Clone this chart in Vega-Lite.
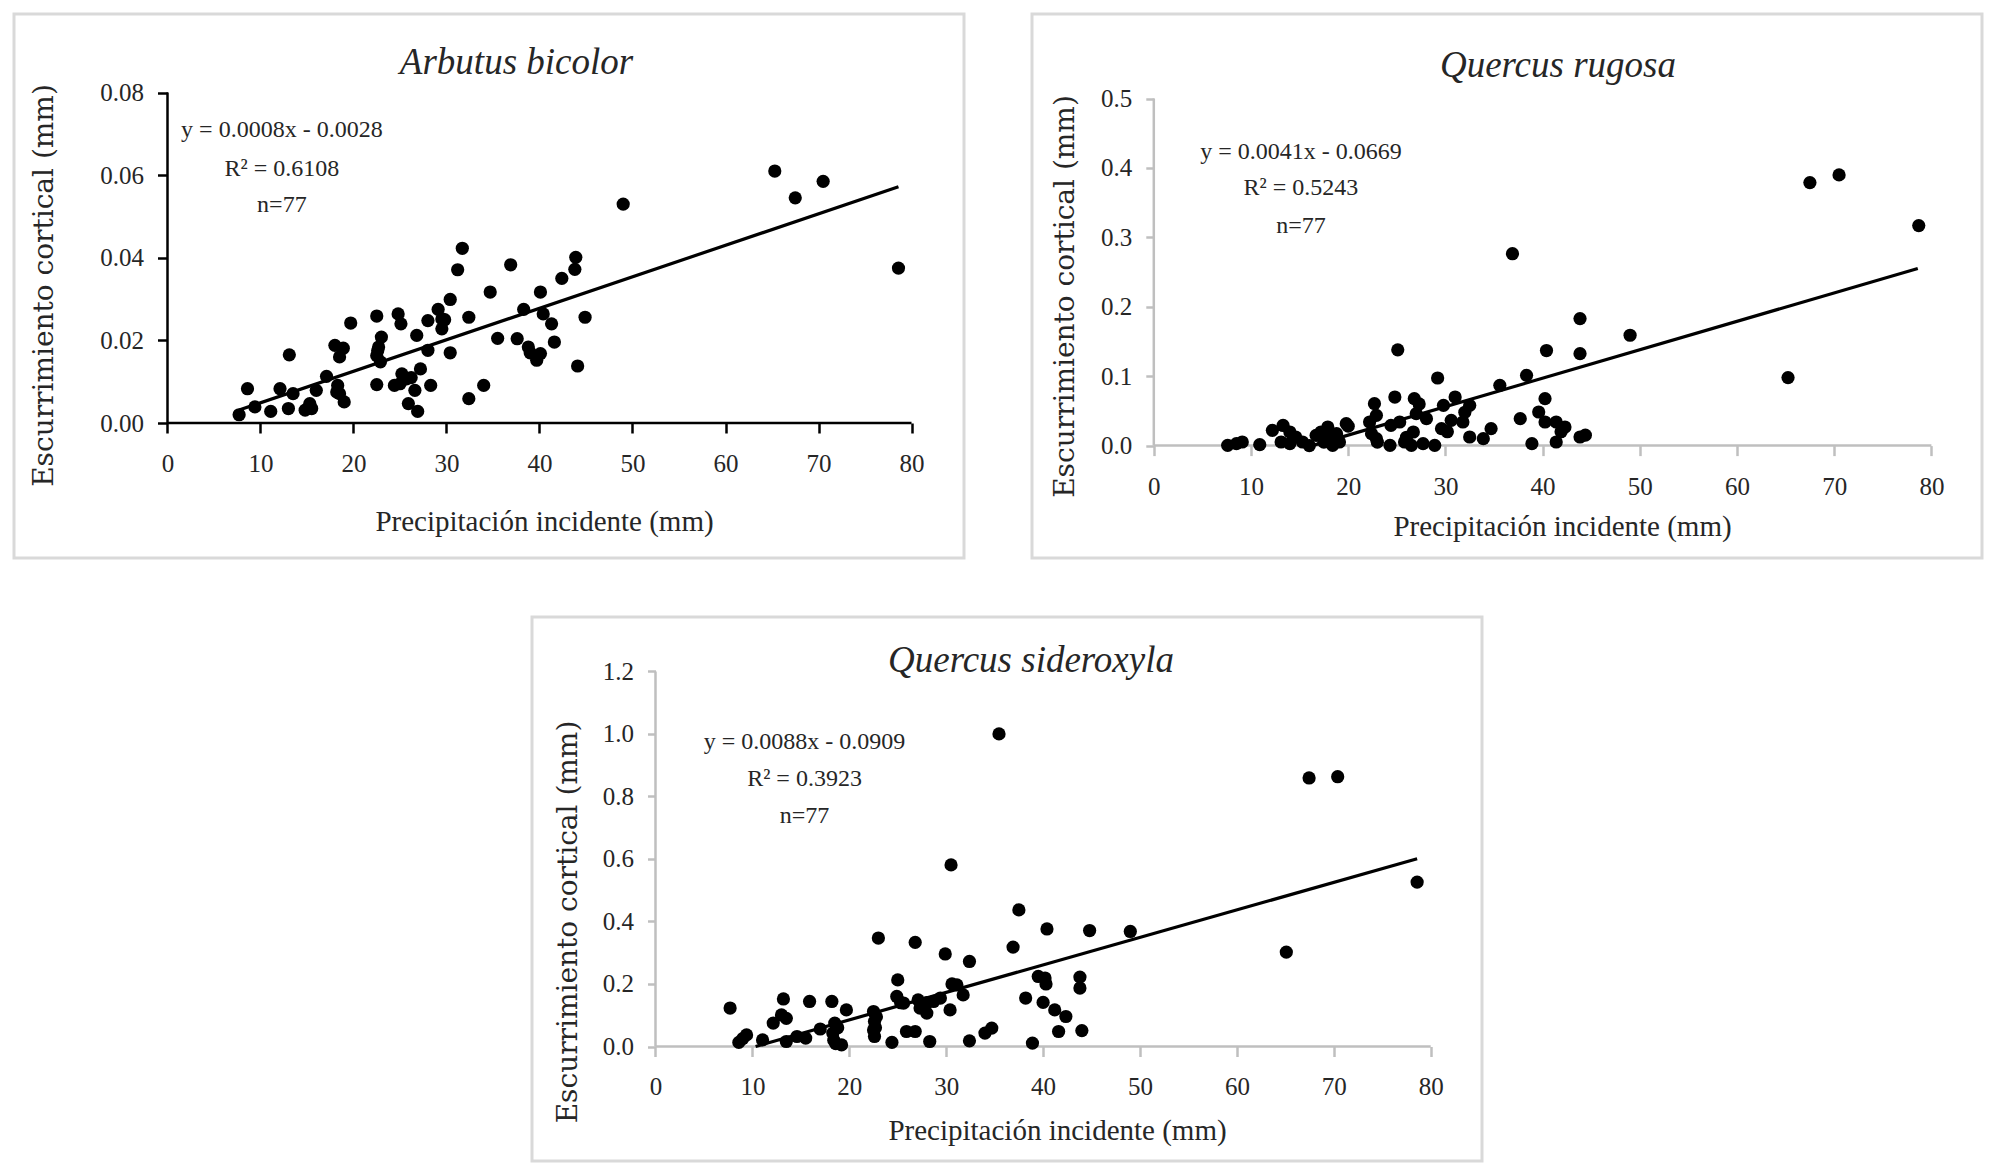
{
  "$schema": "https://vega.github.io/schema/vega-lite/v6.json",
  "description": "Escurrimiento cortical vs precipitación incidente para tres especies",
  "padding": {"left": 12, "top": 12, "right": 0, "bottom": 0},
  "background": "white",
  "config": {
    "view": {"stroke": "#d9d9d9", "strokeWidth": 3},
    "font": "Liberation Serif",
    "axis": {"labelFont": "Liberation Serif", "titleFont": "Liberation Serif", "titleFontWeight": "normal", "grid": false, "domain": false}
  },
  "datasets": {
    "arbutus": [
      {"x":7.7,"y":0.002},{"x":8.6,"y":0.0083},{"x":9.4,"y":0.0039},{"x":11.1,"y":0.0028},{"x":12.1,"y":0.0083},
      {"x":13.1,"y":0.0165},{"x":13.0,"y":0.0035},{"x":13.5,"y":0.0071},{"x":14.8,"y":0.0031},{"x":15.3,"y":0.0047},
      {"x":16.0,"y":0.0079},{"x":17.1,"y":0.0113},{"x":18.0,"y":0.0188},{"x":18.9,"y":0.0181},{"x":18.5,"y":0.016},
      {"x":18.3,"y":0.0091},{"x":18.5,"y":0.0071},{"x":19.0,"y":0.0051},{"x":19.7,"y":0.0242},{"x":22.5,"y":0.0259},
      {"x":23.0,"y":0.0208},{"x":22.7,"y":0.0184},{"x":22.5,"y":0.0163},{"x":22.9,"y":0.0148},{"x":22.5,"y":0.0093},
      {"x":24.8,"y":0.0264},{"x":25.1,"y":0.024},{"x":24.4,"y":0.0091},{"x":25.2,"y":0.0119},{"x":25.7,"y":0.0107},
      {"x":26.6,"y":0.0079},{"x":25.9,"y":0.0047},{"x":26.9,"y":0.0028},{"x":26.8,"y":0.0212},{"x":27.2,"y":0.0131},
      {"x":28.0,"y":0.0176},{"x":28.0,"y":0.0248},{"x":28.3,"y":0.0091},{"x":29.1,"y":0.0275},{"x":29.5,"y":0.0252},
      {"x":29.5,"y":0.0228},{"x":30.4,"y":0.0299},{"x":30.4,"y":0.017},{"x":31.2,"y":0.0371},{"x":31.7,"y":0.0423},
      {"x":32.4,"y":0.0256},{"x":32.4,"y":0.0059},{"x":34.0,"y":0.0091},{"x":34.7,"y":0.0317},{"x":35.5,"y":0.0205},
      {"x":36.9,"y":0.0383},{"x":37.6,"y":0.0204},{"x":38.3,"y":0.0275},{"x":38.8,"y":0.0184},{"x":39.7,"y":0.0152},
      {"x":40.1,"y":0.0168},{"x":40.1,"y":0.0317},{"x":40.4,"y":0.0264},{"x":41.3,"y":0.024},{"x":41.6,"y":0.0196},
      {"x":42.4,"y":0.035},{"x":43.8,"y":0.0372},{"x":43.9,"y":0.0401},{"x":44.1,"y":0.0138},{"x":44.9,"y":0.0256},
      {"x":49.0,"y":0.053},{"x":65.3,"y":0.061},{"x":67.5,"y":0.0545},{"x":70.5,"y":0.0585},{"x":78.6,"y":0.0375},
      {"x":18.2,"y":0.0075},{"x":22.6,"y":0.0175},{"x":26.2,"y":0.011},{"x":39.0,"y":0.017},{"x":25.0,"y":0.0095},
      {"x":15.5,"y":0.0035},{"x":29.8,"y":0.025}
    ],
    "rugosa": [
      {"x":7.6,"y":0.0004},{"x":8.5,"y":0.0028},{"x":9.1,"y":0.0052},{"x":10.9,"y":0.0013},{"x":12.2,"y":0.022},
      {"x":13.3,"y":0.029},{"x":13.1,"y":0.0052},{"x":14.0,"y":0.0196},{"x":14.6,"y":0.0124},{"x":15.3,"y":0.0052},
      {"x":16.0,"y":0.0},{"x":16.7,"y":0.0148},{"x":17.2,"y":0.0196},{"x":17.9,"y":0.0268},{"x":18.1,"y":0.0124},
      {"x":18.4,"y":0.0004},{"x":18.8,"y":0.0172},{"x":19.8,"y":0.0316},{"x":19.1,"y":0.0052},{"x":22.7,"y":0.0604},
      {"x":22.9,"y":0.0436},{"x":22.2,"y":0.034},{"x":22.4,"y":0.0172},{"x":22.9,"y":0.010},{"x":24.8,"y":0.070},
      {"x":25.1,"y":0.138},{"x":24.4,"y":0.0292},{"x":24.3,"y":0.0004},{"x":25.3,"y":0.034},{"x":25.8,"y":0.0052},
      {"x":26.8,"y":0.0676},{"x":27.0,"y":0.046},{"x":26.7,"y":0.0196},{"x":26.5,"y":0.0004},{"x":28.05,"y":0.0388},
      {"x":27.7,"y":0.0028},{"x":28.9,"y":0.0004},{"x":29.2,"y":0.0974},{"x":29.8,"y":0.058},{"x":29.6,"y":0.0244},
      {"x":30.6,"y":0.0364},{"x":31.0,"y":0.070},{"x":31.8,"y":0.034},{"x":32.0,"y":0.048},{"x":32.5,"y":0.058},
      {"x":32.5,"y":0.0124},{"x":33.9,"y":0.010},{"x":34.7,"y":0.0244},{"x":35.6,"y":0.0868},{"x":38.35,"y":0.1012},
      {"x":37.7,"y":0.0388},{"x":38.9,"y":0.0028},{"x":40.25,"y":0.0676},{"x":39.6,"y":0.0484},{"x":40.25,"y":0.034},
      {"x":40.4,"y":0.137},{"x":41.4,"y":0.034},{"x":41.4,"y":0.0052},{"x":42.3,"y":0.0268},{"x":43.85,"y":0.1325},
      {"x":43.85,"y":0.183},{"x":43.85,"y":0.0124},{"x":44.4,"y":0.015},{"x":36.9,"y":0.2765},{"x":49.0,"y":0.159},
      {"x":65.25,"y":0.098},{"x":67.5,"y":0.379},{"x":70.5,"y":0.390},{"x":78.7,"y":0.317},{"x":20.0,"y":0.028},
      {"x":23.0,"y":0.005},{"x":26.0,"y":0.012},{"x":27.3,"y":0.06},{"x":30.2,"y":0.02},{"x":14.0,"y":0.003},
      {"x":17.5,"y":0.005},{"x":41.9,"y":0.02}
    ],
    "sideroxyla": [
      {"x":7.7,"y":0.123},{"x":8.6,"y":0.013},{"x":9.4,"y":0.037},{"x":11.05,"y":0.021},{"x":12.15,"y":0.075},
      {"x":13.0,"y":0.101},{"x":13.2,"y":0.152},{"x":13.5,"y":0.016},{"x":14.6,"y":0.032},{"x":15.5,"y":0.027},
      {"x":15.9,"y":0.144},{"x":17.0,"y":0.056},{"x":18.2,"y":0.144},{"x":18.5,"y":0.075},{"x":18.3,"y":0.043},
      {"x":18.6,"y":0.009},{"x":19.2,"y":0.005},{"x":19.7,"y":0.117},{"x":22.5,"y":0.112},{"x":22.6,"y":0.080},
      {"x":22.5,"y":0.053},{"x":22.6,"y":0.032},{"x":23.0,"y":0.347},{"x":24.4,"y":0.013},{"x":25.0,"y":0.213},
      {"x":24.9,"y":0.16},{"x":25.6,"y":0.139},{"x":25.9,"y":0.048},{"x":26.8,"y":0.048},{"x":26.8,"y":0.333},
      {"x":27.1,"y":0.149},{"x":27.3,"y":0.123},{"x":28.0,"y":0.107},{"x":28.3,"y":0.016},{"x":28.7,"y":0.144},
      {"x":29.4,"y":0.155},{"x":29.9,"y":0.296},{"x":30.4,"y":0.117},{"x":31.1,"y":0.197},{"x":31.75,"y":0.165},
      {"x":30.5,"y":0.581},{"x":32.4,"y":0.272},{"x":32.4,"y":0.018},{"x":34.0,"y":0.043},{"x":34.7,"y":0.059},
      {"x":36.9,"y":0.318},{"x":37.5,"y":0.437},{"x":38.2,"y":0.155},{"x":38.9,"y":0.011},{"x":39.5,"y":0.224},
      {"x":40.2,"y":0.219},{"x":40.4,"y":0.376},{"x":40.0,"y":0.141},{"x":41.2,"y":0.117},{"x":42.35,"y":0.096},
      {"x":41.6,"y":0.048},{"x":43.8,"y":0.222},{"x":43.8,"y":0.187},{"x":44.0,"y":0.051},{"x":44.8,"y":0.371},
      {"x":35.45,"y":1.0},{"x":49.0,"y":0.368},{"x":65.1,"y":0.302},{"x":67.45,"y":0.859},{"x":70.4,"y":0.863},
      {"x":78.6,"y":0.526},{"x":18.8,"y":0.06},{"x":22.8,"y":0.095},{"x":25.3,"y":0.14},{"x":27.5,"y":0.13},
      {"x":28.0,"y":0.14},{"x":30.6,"y":0.20},{"x":13.5,"y":0.09},{"x":9.0,"y":0.025},{"x":40.3,"y":0.20},
      {"x":18.4,"y":0.02},{"x":22.7,"y":0.06}
    ]
  },
  "spacing": 55,
  "vconcat": [
    {
      "spacing": 64,
      "hconcat": [
        {
          "width": 950,
          "height": 544,
          "layer": [
            {
              "data": {"values": [{"x":0,"y":0,"x2":80,"y2":0},{"x":0,"y":0,"x2":0,"y2":0.08}]},
              "mark": {"type": "rule", "color": "#000000", "strokeWidth": 2.5},
              "encoding": {
                "x": {"field": "x", "type": "quantitative", "scale": {"domain": [-16.505, 85.645], "nice": false, "zero": false},
                  "axis": {"values": [0,10,20,30,40,50,60,70,80], "offset": -135, "tickSize": 10, "tickWidth": 2.5, "tickColor": "#000000",
                    "labelFontSize": 25, "labelColor": "#262626", "labelPadding": 30, "labelBaseline": "middle", "labelFlush": false, "labelOverlap": false,
                    "title": "Precipitación incidente (mm)", "titleFontSize": 29, "titleColor": "#262626", "titleX": 530, "titleY": 98, "titleBaseline": "middle", "titleAlign": "center"}},
                "x2": {"field": "x2"},
                "y": {"field": "y", "type": "quantitative", "scale": {"domain": [-0.03268, 0.09901], "nice": false, "zero": false},
                  "axis": {"values": [0,0.02,0.04,0.06,0.08], "format": ".2f", "offset": -153.5, "tickSize": 10, "tickWidth": 2.5, "tickColor": "#000000",
                    "labelFontSize": 25, "labelColor": "#262626", "labelPadding": 14, "labelFlush": false, "labelOverlap": false,
                    "title": "Escurrimiento cortical (mm)", "titleFont": "DejaVu Serif", "titleFontSize": 28, "titleColor": "#262626", "titleX": -123.5, "titleY": 271, "titleAngle": -90, "titleBaseline": "middle", "titleAlign": "center"}},
                "y2": {"field": "y2"}
              }
            },
            {
              "data": {"name": "arbutus"},
              "mark": {"type": "circle", "size": 175, "color": "#000000", "opacity": 1},
              "encoding": {
                "x": {"field": "x", "type": "quantitative"},
                "y": {"field": "y", "type": "quantitative"}
              }
            },
            {
              "data": {"values": [{"x":7.7,"y":0.00314,"x2":78.6,"y2":0.0572}]},
              "mark": {"type": "rule", "color": "#000000", "strokeWidth": 3.2},
              "encoding": {
                "x": {"field": "x", "type": "quantitative"},
                "x2": {"field": "x2"},
                "y": {"field": "y", "type": "quantitative"},
                "y2": {"field": "y2"}
              }
            },
            {
              "data": {"values": [
                {"x":12.3,"y":0.0709,"label":"y = 0.0008x - 0.0028"},
                {"x":12.3,"y":0.0615,"label":"R² = 0.6108"},
                {"x":12.3,"y":0.0528,"label":"n=77"}
              ]},
              "mark": {"type": "text", "fontSize": 24, "align": "center", "baseline": "middle", "color": "#262626"},
              "encoding": {
                "x": {"field": "x", "type": "quantitative"},
                "y": {"field": "y", "type": "quantitative"},
                "text": {"field": "label"}
              }
            },
            {
              "data": {"values": [{"x":37.53,"y":0.08715,"label":"Arbutus bicolor"}]},
              "mark": {"type": "text", "fontSize": 37, "fontStyle": "italic", "align": "center", "baseline": "middle", "color": "#262626"},
              "encoding": {
                "x": {"field": "x", "type": "quantitative"},
                "y": {"field": "y", "type": "quantitative"},
                "text": {"field": "label"}
              }
            }
          ]
        },
        {
          "width": 950,
          "height": 544,
          "layer": [
            {
              "data": {"values": [{"x":0,"y":0,"x2":80,"y2":0},{"x":0,"y":0,"x2":0,"y2":0.5}]},
              "mark": {"type": "rule", "color": "#bfbfbf", "strokeWidth": 2.5},
              "encoding": {
                "x": {"field": "x", "type": "quantitative", "scale": {"domain": [-12.531, 85.206], "nice": false, "zero": false},
                  "axis": {"values": [0,10,20,30,40,50,60,70,80], "offset": -112.4, "tickSize": 10, "tickWidth": 2.5, "tickColor": "#bfbfbf",
                    "labelFontSize": 25, "labelColor": "#262626", "labelPadding": 31, "labelBaseline": "middle", "labelFlush": false, "labelOverlap": false,
                    "title": "Precipitación incidente (mm)", "titleFontSize": 29, "titleColor": "#262626", "titleX": 530, "titleY": 80.4, "titleBaseline": "middle", "titleAlign": "center"}},
                "x2": {"field": "x2"},
                "y": {"field": "y", "type": "quantitative", "scale": {"domain": [-0.16196, 0.6219], "nice": false, "zero": false},
                  "axis": {"values": [0,0.1,0.2,0.3,0.4,0.5], "format": ".1f", "offset": -121.8, "tickSize": 8, "tickWidth": 2.5, "tickColor": "#bfbfbf",
                    "labelFontSize": 25, "labelColor": "#262626", "labelPadding": 14, "labelFlush": false, "labelOverlap": false,
                    "title": "Escurrimiento cortical (mm)", "titleFont": "DejaVu Serif", "titleFontSize": 28, "titleColor": "#262626", "titleX": -88.8, "titleY": 282, "titleAngle": -90, "titleBaseline": "middle", "titleAlign": "center"}},
                "y2": {"field": "y2"}
              }
            },
            {
              "data": {"name": "rugosa"},
              "mark": {"type": "circle", "size": 175, "color": "#000000", "opacity": 1},
              "encoding": {
                "x": {"field": "x", "type": "quantitative"},
                "y": {"field": "y", "type": "quantitative"}
              }
            },
            {
              "data": {"values": [{"x":16.3,"y":0,"x2":78.6,"y2":0.2553}]},
              "mark": {"type": "rule", "color": "#000000", "strokeWidth": 3.2},
              "encoding": {
                "x": {"field": "x", "type": "quantitative"},
                "x2": {"field": "x2"},
                "y": {"field": "y", "type": "quantitative"},
                "y2": {"field": "y2"}
              }
            },
            {
              "data": {"values": [
                {"x":15.14,"y":0.4231,"label":"y = 0.0041x - 0.0669"},
                {"x":15.14,"y":0.3718,"label":"R² = 0.5243"},
                {"x":15.14,"y":0.3169,"label":"n=77"}
              ]},
              "mark": {"type": "text", "fontSize": 24, "align": "center", "baseline": "middle", "color": "#262626"},
              "encoding": {
                "x": {"field": "x", "type": "quantitative"},
                "y": {"field": "y", "type": "quantitative"},
                "text": {"field": "label"}
              }
            },
            {
              "data": {"values": [{"x":41.58,"y":0.547,"label":"Quercus rugosa"}]},
              "mark": {"type": "text", "fontSize": 37, "fontStyle": "italic", "align": "center", "baseline": "middle", "color": "#262626"},
              "encoding": {
                "x": {"field": "x", "type": "quantitative"},
                "y": {"field": "y", "type": "quantitative"},
                "text": {"field": "label"}
              }
            }
          ]
        }
      ]
    },
    {
      "spacing": 0,
      "hconcat": [
        {
          "width": 516,
          "height": 544,
          "data": {"values": []},
          "mark": {"type": "point"},
          "encoding": {},
          "view": {"stroke": null}
        },
        {
          "width": 950,
          "height": 544,
          "layer": [
            {
              "data": {"values": [{"x":0,"y":0,"x2":80,"y2":0},{"x":0,"y":0,"x2":0,"y2":1.2}]},
              "mark": {"type": "rule", "color": "#bfbfbf", "strokeWidth": 2.5},
              "encoding": {
                "x": {"field": "x", "type": "quantitative", "scale": {"domain": [-12.745, 85.294], "nice": false, "zero": false},
                  "axis": {"values": [0,10,20,30,40,50,60,70,80], "offset": -114.5, "tickSize": 10, "tickWidth": 2.5, "tickColor": "#bfbfbf",
                    "labelFontSize": 25, "labelColor": "#262626", "labelPadding": 30, "labelBaseline": "middle", "labelFlush": false, "labelOverlap": false,
                    "title": "Precipitación incidente (mm)", "titleFontSize": 29, "titleColor": "#262626", "titleX": 525, "titleY": 83.5, "titleBaseline": "middle", "titleAlign": "center"}},
                "x2": {"field": "x2"},
                "y": {"field": "y", "type": "quantitative", "scale": {"domain": [-0.36628, 1.37396], "nice": false, "zero": false},
                  "axis": {"values": [0,0.2,0.4,0.6,0.8,1.0,1.2], "format": ".1f", "offset": -123.5, "tickSize": 8, "tickWidth": 2.5, "tickColor": "#bfbfbf",
                    "labelFontSize": 25, "labelColor": "#262626", "labelPadding": 14, "labelFlush": false, "labelOverlap": false,
                    "title": "Escurrimiento cortical (mm)", "titleFont": "DejaVu Serif", "titleFontSize": 28, "titleColor": "#262626", "titleX": -87.5, "titleY": 304.5, "titleAngle": -90, "titleBaseline": "middle", "titleAlign": "center"}},
                "y2": {"field": "y2"}
              }
            },
            {
              "data": {"name": "sideroxyla"},
              "mark": {"type": "circle", "size": 175, "color": "#000000", "opacity": 1},
              "encoding": {
                "x": {"field": "x", "type": "quantitative"},
                "y": {"field": "y", "type": "quantitative"}
              }
            },
            {
              "data": {"values": [{"x":10.33,"y":0,"x2":78.6,"y2":0.6008}]},
              "mark": {"type": "rule", "color": "#000000", "strokeWidth": 3.2},
              "encoding": {
                "x": {"field": "x", "type": "quantitative"},
                "x2": {"field": "x2"},
                "y": {"field": "y", "type": "quantitative"},
                "y2": {"field": "y2"}
              }
            },
            {
              "data": {"values": [
                {"x":15.38,"y":0.974,"label":"y = 0.0088x - 0.0909"},
                {"x":15.38,"y":0.8557,"label":"R² = 0.3923"},
                {"x":15.38,"y":0.7374,"label":"n=77"}
              ]},
              "mark": {"type": "text", "fontSize": 24, "align": "center", "baseline": "middle", "color": "#262626"},
              "encoding": {
                "x": {"field": "x", "type": "quantitative"},
                "y": {"field": "y", "type": "quantitative"},
                "text": {"field": "label"}
              }
            },
            {
              "data": {"values": [{"x":38.75,"y":1.2332,"label":"Quercus sideroxyla"}]},
              "mark": {"type": "text", "fontSize": 37, "fontStyle": "italic", "align": "center", "baseline": "middle", "color": "#262626"},
              "encoding": {
                "x": {"field": "x", "type": "quantitative"},
                "y": {"field": "y", "type": "quantitative"},
                "text": {"field": "label"}
              }
            }
          ]
        }
      ]
    }
  ]
}
